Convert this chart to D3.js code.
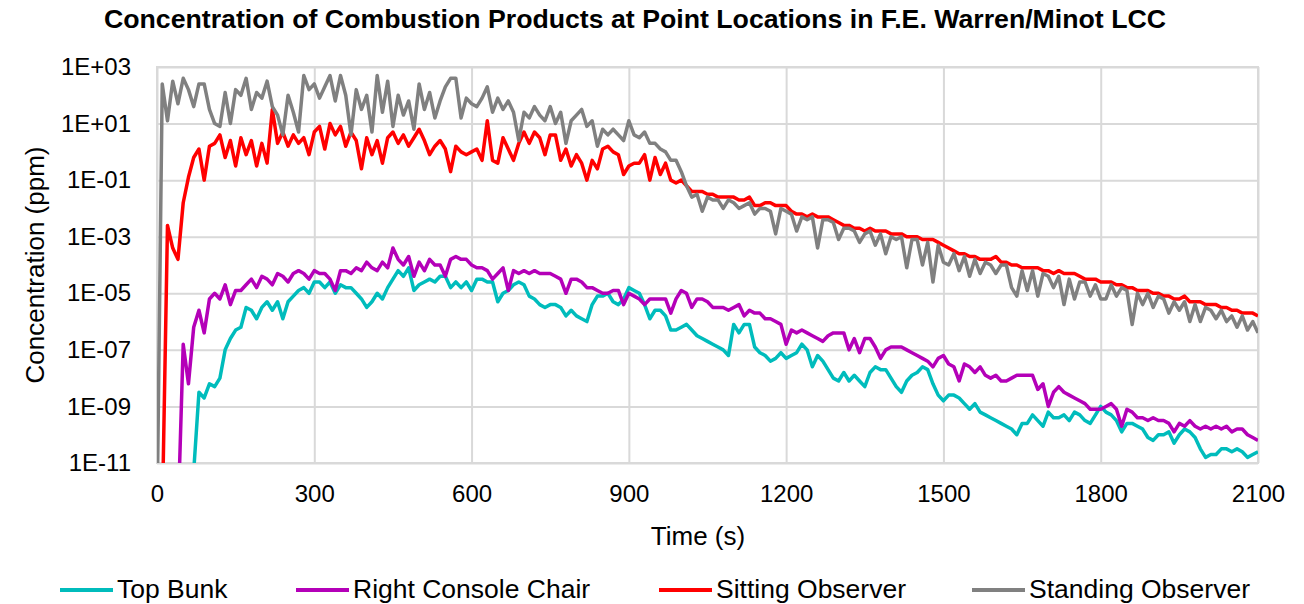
<!DOCTYPE html>
<html>
<head>
<meta charset="utf-8">
<script src="https://cdn.jsdelivr.net/npm/d3@7"></script>
<style>
  body { margin: 0; background: #ffffff; }
  text { font-family: Arial, "Liberation Sans", sans-serif; fill: #000000; }
</style>
</head>
<body>
<div id="chart"></div>
<script>
// Sample times (s): one reading every 10 s from 0 to 2100.
var timeSec = d3.range(0, 2101, 10);

// log10 of concentration (ppm) at each sample time.
// -13 = still below the bottom of the axis (nothing visible yet).
var topBunkExp = [
  -13, -13, -13, -13, -13, -13, -13, -11.3, -8.5, -8.7, -8.2, -8.3, -8.0, -7.0, -6.6, -6.3,
  -6.2, -5.5, -5.6, -5.9, -5.5, -5.3, -5.6, -5.3, -5.9, -5.3, -5.1, -4.9, -4.8, -5.0, -4.6,
  -4.6, -4.8, -4.6, -5.0, -4.7, -4.8, -4.8, -5.0, -5.2, -5.5, -5.3, -5.0, -5.2, -4.8, -4.5,
  -4.2, -4.4, -4.1, -4.9, -4.7, -4.6, -4.5, -4.6, -4.4, -4.4, -4.8, -4.6, -4.8, -4.6, -4.9,
  -4.5, -4.5, -4.6, -4.6, -5.3, -5.0, -4.9, -4.7, -4.6, -4.7, -5.1, -5.2, -5.4, -5.5, -5.4,
  -5.4, -5.5, -5.8, -5.6, -5.8, -5.9, -6.0, -5.4, -5.1, -5.1, -5.0, -5.3, -5.4, -5.2, -4.8,
  -4.9, -5.0, -5.4, -5.9, -5.6, -5.6, -5.8, -6.3, -6.3, -6.2, -6.1, -6.3, -6.5, -6.6, -6.7,
  -6.8, -6.9, -7.0, -7.2, -6.1, -6.4, -6.1, -6.1, -6.9, -7.1, -7.2, -7.4, -7.3, -7.1, -7.3,
  -7.2, -7.1, -6.8, -7.0, -7.6, -7.2, -7.4, -7.7, -8.0, -8.1, -7.8, -8.1, -7.9, -8.1, -8.3,
  -7.8, -7.6, -7.7, -7.7, -8.0, -8.3, -8.5, -8.1, -7.9, -7.8, -7.6, -7.7, -8.2, -8.6, -8.8,
  -8.6, -8.6, -8.7, -8.9, -9.1, -8.9, -9.2, -9.3, -9.4, -9.5, -9.6, -9.7, -9.8, -10.0, -9.6,
  -9.6, -9.3, -9.5, -9.7, -9.2, -9.4, -9.4, -9.3, -9.5, -9.2, -9.3, -9.5, -9.6, -9.3, -9.0,
  -9.2, -9.3, -9.5, -9.9, -9.6, -9.6, -9.7, -9.8, -10.1, -10.2, -10.0, -10.0, -9.9, -10.3, -10.0,
  -9.8, -9.9, -10.1, -10.5, -10.8, -10.7, -10.7, -10.5, -10.5, -10.6, -10.5, -10.6, -10.8, -10.7, -10.6
];
var rightConsoleChairExp = [
  -13, -13, -13, -13, -13, -6.8, -8.2, -6.2, -5.6, -6.4, -5.2, -5.0, -5.2, -4.7, -5.4, -4.9,
  -4.9, -4.7, -4.5, -4.8, -4.4, -4.5, -4.7, -4.3, -4.4, -4.6, -4.3, -4.2, -4.3, -4.5, -4.2,
  -4.3, -4.3, -4.5, -4.9, -4.2, -4.2, -4.3, -4.1, -4.2, -3.9, -4.1, -4.2, -3.9, -4.1, -3.4,
  -3.8, -4.0, -3.7, -4.4, -3.9, -4.2, -3.8, -4.0, -4.0, -4.4, -3.8, -3.7, -3.8, -3.8, -4.0,
  -4.1, -4.1, -4.2, -4.5, -4.3, -4.1, -4.9, -4.2, -4.3, -4.2, -4.3, -4.2, -4.3, -4.3, -4.3,
  -4.4, -4.5, -5.0, -4.5, -4.5, -4.6, -4.8, -4.8, -4.9, -5.0, -5.0, -4.9, -4.9, -5.4, -5.0,
  -5.1, -5.2, -5.4, -5.2, -5.2, -5.2, -5.2, -5.7, -5.2, -4.9, -5.0, -5.5, -5.2, -5.2, -5.3,
  -5.5, -5.5, -5.5, -5.6, -5.5, -5.4, -5.8, -5.6, -5.7, -5.7, -5.9, -5.9, -6.0, -6.1, -6.8,
  -6.3, -6.4, -6.3, -6.4, -6.5, -6.6, -6.7, -6.5, -6.4, -6.4, -6.4, -7.0, -6.6, -7.1, -6.6,
  -6.6, -6.9, -7.3, -7.0, -6.9, -6.9, -6.9, -7.0, -7.1, -7.2, -7.3, -7.4, -7.6, -7.3, -7.2,
  -7.5, -7.6, -8.1, -7.5, -7.6, -7.8, -7.6, -7.9, -8.0, -7.9, -8.1, -8.1, -8.0, -7.9, -7.9,
  -7.9, -7.9, -8.4, -8.2, -9.0, -8.5, -8.3, -8.5, -8.6, -8.7, -8.8, -8.9, -9.1, -9.1, -9.1,
  -9.0, -8.9, -9.1, -9.7, -9.1, -9.2, -9.4, -9.4, -9.5, -9.4, -9.5, -9.5, -9.6, -9.9, -9.6,
  -9.7, -9.5, -9.7, -9.8, -9.7, -9.8, -9.7, -9.8, -9.7, -9.9, -9.8, -9.8, -10.0, -10.1, -10.2
];
var sittingObserverExp = [
  -13, -13, -2.6, -3.4, -3.8, -1.8, -0.9, -0.2, 0.1, -1.0, 0.2, 0.3, 0.6, -0.2, 0.4, -0.5,
  0.5, -0.1, 0.4, -0.5, 0.3, -0.4, 1.5, 0.3, 0.7, 0.2, 0.6, 0.3, 0.5, -0.1, 0.7,
  0.9, 0.1, 1.0, 0.6, 0.9, 0.2, 0.7, 0.4, -0.6, 0.5, -0.1, 0.4, -0.4, 0.5, 0.7,
  0.3, 0.6, 0.2, 0.5, 0.8, 0.4, -0.1, 0.2, 0.4, 0.1, -0.7, 0.2, 0.0, -0.1, 0.0,
  0.1, -0.3, 1.1, -0.3, -0.4, 0.5, 0.1, -0.3, 0.3, 0.7, 0.3, 0.7, 0.5, -0.1, 0.6,
  0.6, -0.3, 0.1, -0.5, -0.1, -0.4, -1.0, -0.3, -0.6, 0.1, 0.2, 0.0, -0.1, -0.8, -0.5,
  -0.4, -0.4, -0.1, -1.0, -0.2, -0.8, -0.4, -1.0, -1.1, -1.0, -1.2, -1.4, -1.4, -1.4, -1.5,
  -1.5, -1.6, -1.6, -1.6, -1.6, -1.7, -1.7, -1.6, -1.9, -1.9, -1.8, -1.8, -1.9, -1.9, -1.9,
  -2.1, -2.2, -2.2, -2.3, -2.2, -2.3, -2.3, -2.3, -2.4, -2.5, -2.6, -2.6, -2.7, -2.7, -2.8,
  -2.7, -2.8, -2.8, -2.8, -2.9, -2.9, -2.9, -3.0, -3.0, -3.0, -3.1, -3.1, -3.1, -3.2, -3.3,
  -3.4, -3.5, -3.6, -3.6, -3.7, -3.7, -3.8, -3.8, -3.8, -3.7, -3.9, -3.9, -4.0, -4.0, -4.1,
  -4.1, -4.1, -4.1, -4.2, -4.2, -4.3, -4.2, -4.3, -4.3, -4.3, -4.4, -4.5, -4.5, -4.5, -4.6,
  -4.6, -4.6, -4.7, -4.7, -4.8, -4.8, -4.9, -4.9, -4.9, -5.0, -5.0, -5.1, -5.1, -5.2, -5.2,
  -5.1, -5.3, -5.3, -5.3, -5.4, -5.4, -5.4, -5.5, -5.5, -5.6, -5.6, -5.7, -5.7, -5.7, -5.8
];
var standingObserverExp = [
  -13, 2.4, 1.1, 2.5, 1.7, 2.6, 2.2, 1.6, 2.4, 2.4, 1.5, 1.0, 0.9, 2.1, 1.0, 2.2,
  2.0, 2.6, 1.5, 2.1, 1.9, 2.5, 1.6, 1.3, 0.6, 2.0, 1.4, 0.7, 2.7, 2.2, 2.4,
  1.9, 2.3, 2.7, 1.8, 2.7, 2.0, 0.6, 2.2, 1.5, 2.0, 0.7, 2.7, 1.4, 2.5, 0.9,
  2.0, 1.3, 1.8, 0.8, 2.4, 1.5, 2.1, 1.2, 1.8, 2.3, 2.6, 2.6, 1.2, 1.9, 1.7,
  1.6, 1.9, 2.3, 1.4, 1.9, 1.5, 1.8, 1.4, 0.4, 1.4, 1.2, 1.6, 1.3, 1.1, 1.6,
  1.0, 1.4, 0.3, 1.1, 1.3, 1.5, 0.9, 1.1, 0.2, 0.8, 0.6, 0.8, 0.6, 0.4, 1.1,
  0.6, 0.5, 0.7, 0.3, 0.3, 0.1, 0.0, -0.3, -0.3, -0.7, -1.2, -1.6, -1.5, -2.1, -1.6,
  -1.7, -1.7, -2.0, -1.7, -1.8, -2.0, -1.9, -1.8, -2.2, -2.0, -2.0, -2.1, -2.9, -2.0, -2.1,
  -2.2, -2.8, -2.3, -2.4, -2.3, -3.4, -2.4, -2.4, -2.5, -3.1, -2.7, -2.7, -2.8, -3.2, -2.9,
  -2.8, -3.3, -2.9, -3.6, -3.0, -3.1, -3.0, -4.1, -3.1, -3.1, -4.0, -3.2, -4.6, -3.3, -3.9,
  -4.0, -3.6, -4.2, -3.7, -4.4, -3.8, -4.3, -3.9, -4.0, -4.3, -4.0, -4.0, -4.8, -5.1, -4.2,
  -4.9, -4.2, -5.1, -4.3, -4.4, -4.8, -4.4, -5.4, -4.5, -5.2, -4.6, -4.6, -5.1, -4.7, -5.2,
  -5.2, -4.7, -5.1, -4.8, -4.9, -6.1, -5.0, -5.4, -5.0, -5.5, -5.1, -5.2, -5.7, -5.3, -5.6,
  -5.3, -6.0, -5.4, -6.0, -5.5, -5.6, -5.9, -5.6, -6.0, -5.8, -6.2, -5.8, -6.3, -6.0, -6.4
];

var seriesNames = ["Top Bunk", "Right Console Chair", "Sitting Observer", "Standing Observer"];
var seriesExps = [topBunkExp, rightConsoleChairExp, sittingObserverExp, standingObserverExp];
var seriesColors = ["#00bcbc", "#b400b8", "#ff0000", "#808080"];

var xTickValues = [0, 300, 600, 900, 1200, 1500, 1800, 2100];
var yTickValues = [1e-11, 1e-9, 1e-7, 1e-5, 1e-3, 1e-1, 1e1, 1e3];

var chartTitle = "Concentration of Combustion Products at Point Locations in F.E. Warren/Minot LCC";
var xLabel = "Time (s)";
var yLabel = "Concentration (ppm)";

// 1. Sizes.
var width = 1304;
var height = 604;
var plotLeft = 157, plotRight = 1258, plotTop = 67, plotBottom = 463;
var gridColor = "#d9d9d9";
var legendStarts = [60, 296, 659, 972];

// 2. Scales.
var xScale = d3.scaleLinear().domain([0, 2100]).range([plotLeft, plotRight]);
var yScale = d3.scaleLog().domain([1e-11, 1e3]).range([plotBottom, plotTop]);

// Excel style exponent labels: 1E+03, 1E-05 ...
function expLabel(v) {
  var e = Math.round(Math.log10(v));
  return "1E" + (e < 0 ? "-" : "+") + d3.format("02d")(Math.abs(e));
}

var svg = d3.select("#chart").append("svg")
  .attr("width", width)
  .attr("height", height);

// 3. Gridlines and plot frame.
var xGrid = svg.append("g")
  .attr("transform", "translate(0," + plotBottom + ")")
  .call(d3.axisBottom(xScale).tickValues(xTickValues).tickSize(-(plotBottom - plotTop)).tickFormat(""));
var yGrid = svg.append("g")
  .attr("transform", "translate(" + plotLeft + ",0)")
  .call(d3.axisLeft(yScale).tickValues(yTickValues).tickSize(-(plotRight - plotLeft)).tickFormat(""));
[xGrid, yGrid].forEach(function (g) {
  g.select(".domain").remove();
  g.selectAll("line").attr("stroke", gridColor).attr("stroke-width", 2);
});
svg.append("rect")
  .attr("x", plotLeft).attr("y", plotTop)
  .attr("width", plotRight - plotLeft).attr("height", plotBottom - plotTop)
  .attr("fill", "none").attr("stroke", gridColor).attr("stroke-width", 2);

// 4. Tick labels.
var xAxis = svg.append("g")
  .attr("transform", "translate(0," + plotBottom + ")")
  .call(d3.axisBottom(xScale).tickValues(xTickValues).tickSize(0).tickPadding(22).tickFormat(d3.format("d")));
var yAxis = svg.append("g")
  .attr("transform", "translate(" + plotLeft + ",0)")
  .call(d3.axisLeft(yScale).tickValues(yTickValues).tickSize(0).tickPadding(26).tickFormat(expLabel));
[xAxis, yAxis].forEach(function (g) {
  g.select(".domain").remove();
  g.selectAll("text").attr("font-size", 24).attr("font-family", "Arial, 'Liberation Sans', sans-serif").attr("fill", "#000");
});

// 5. Lines, clipped to the plot area.
svg.append("clipPath").attr("id", "plotClip")
  .append("rect")
  .attr("x", plotLeft).attr("y", plotTop)
  .attr("width", plotRight - plotLeft).attr("height", plotBottom - plotTop);

var line = d3.line()
  .x(function (d) { return xScale(d.t); })
  .y(function (d) { return yScale(d.v); });

var lineGroup = svg.append("g").attr("clip-path", "url(#plotClip)");
seriesExps.forEach(function (exps, i) {
  var points = timeSec.map(function (t, j) { return {t: t, v: Math.pow(10, exps[j])}; });
  lineGroup.append("path")
    .datum(points)
    .attr("fill", "none")
    .attr("stroke", seriesColors[i])
    .attr("stroke-width", 3.5)
    .attr("stroke-linejoin", "round")
    .attr("d", line);
});

// 6. Titles.
svg.append("text")
  .attr("x", 635)
  .attr("y", 28)
  .attr("text-anchor", "middle")
  .attr("font-size", 26.7)
  .attr("font-weight", "bold")
  .text(chartTitle);
svg.append("text")
  .attr("x", 698)
  .attr("y", 545)
  .attr("text-anchor", "middle")
  .attr("font-size", 26)
  .text(xLabel);
svg.append("text")
  .attr("transform", "translate(44," + (plotTop + plotBottom) / 2 + ")rotate(-90)")
  .attr("text-anchor", "middle")
  .attr("font-size", 26)
  .text(yLabel);

// 7. Legend along the bottom.
var legend = svg.append("g");
seriesNames.forEach(function (name, i) {
  var item = legend.append("g").attr("transform", "translate(" + legendStarts[i] + ",0)");
  item.append("line")
    .attr("x1", 0).attr("x2", 53)
    .attr("y1", 590).attr("y2", 590)
    .attr("stroke", seriesColors[i])
    .attr("stroke-width", 4);
  item.append("text")
    .attr("x", 57)
    .attr("y", 598)
    .attr("font-size", 26.5)
    .text(name);
});
</script>
</body>
</html>
